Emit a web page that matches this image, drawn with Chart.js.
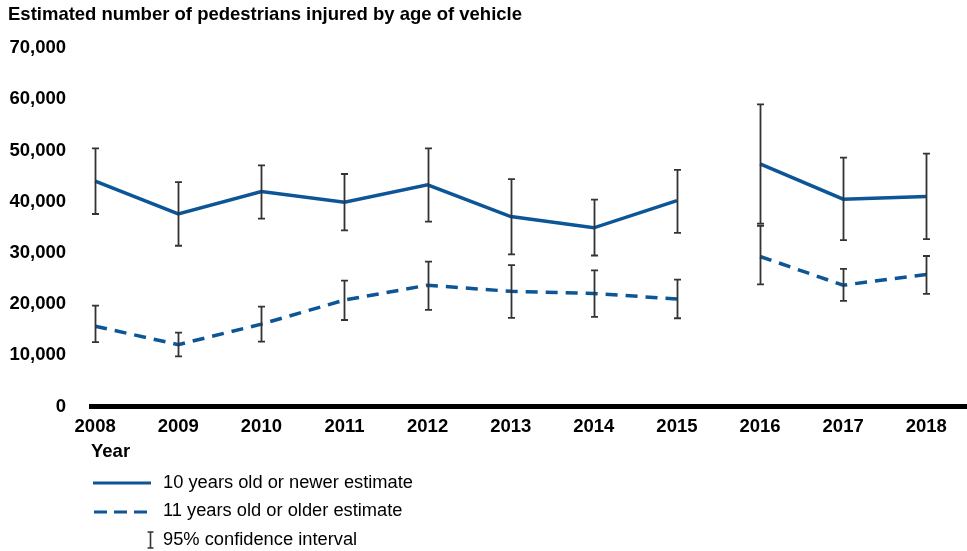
<!DOCTYPE html>
<html>
<head>
<meta charset="utf-8">
<script src="https://cdn.jsdelivr.net/npm/chart.js@4"></script>
<style>
  html, body { margin: 0; padding: 0; background: #fff; }
  #wrap { width: 967px; height: 551px; position: relative; }
</style>
</head>
<body>
<div id="wrap"><canvas id="chart"></canvas></div>
<script>
// Data
const years = [2008, 2009, 2010, 2011, 2012, 2013, 2014, 2015, 2016, 2017, 2018];

const newerEst   = [44000, 37600, 42000, 39900, 43300, 37100, 34900, 40200, 47400, 40500, 41000];
const newerLow   = [37600, 31400, 36700, 34400, 36100, 29700, 29500, 33900, 35700, 32500, 32700];
const newerHigh  = [50400, 43800, 47100, 45400, 50400, 44400, 40400, 46200, 59000, 48600, 49400];

const olderEst   = [15700, 12100, 16100, 20800, 23700, 22500, 22100, 21000, 29300, 23700, 25800];
const olderLow   = [12600,  9800, 12700, 16900, 18900, 17300, 17500, 17250, 23850, 20650, 22000];
const olderHigh  = [19700, 14450, 19500, 24600, 28300, 27600, 26600, 24800, 35300, 26900, 29400];

const yTicks = [0, 10000, 20000, 30000, 40000, 50000, 60000, 70000];

const BLUE = '#0c5596';
const FONT = "'Liberation Sans', Arial, sans-serif";
const BIG = 18.5;

// series is broken between 2015 and 2016
const gapAfter = years.indexOf(2015);
const hideGap = ctx => ctx.p0DataIndex === gapAfter ? 'rgba(0,0,0,0)' : undefined;

function points(vals) {
    return years.map((yr, i) => ({ x: yr, y: vals[i] }));
}

// 95% confidence interval whiskers
const errorBars = {
    id: 'errorBars',
    afterDatasetsDraw(chart) {
        const { ctx, scales: { x, y } } = chart;
        ctx.save();
        ctx.strokeStyle = '#333';
        ctx.lineWidth = 1.8;
        chart.data.datasets.forEach(ds => {
            ds.low.forEach((lo, i) => {
                const px = Math.round(x.getPixelForValue(years[i])) + 0.5;
                const y0 = y.getPixelForValue(lo);
                const y1 = y.getPixelForValue(ds.high[i]);
                ctx.beginPath();
                ctx.moveTo(px, y0); ctx.lineTo(px, y1);
                ctx.moveTo(px - 3.5, y0); ctx.lineTo(px + 3.5, y0);
                ctx.moveTo(px - 3.5, y1); ctx.lineTo(px + 3.5, y1);
                ctx.stroke();
            });
        });
        ctx.restore();
    }
};

// title and the custom legend
const decorations = {
    id: 'decorations',
    afterDraw(chart) {
        const ctx = chart.ctx;
        ctx.save();
        ctx.fillStyle = '#000';
        ctx.textBaseline = 'middle';
        ctx.textAlign = 'left';
        ctx.font = 'bold ' + BIG + 'px ' + FONT;
        ctx.fillText('Estimated number of pedestrians injured by age of vehicle', 8, 15);

        ctx.strokeStyle = BLUE;
        ctx.lineWidth = 3;
        ctx.beginPath();
        ctx.moveTo(93, 483); ctx.lineTo(151, 483);
        ctx.stroke();

        ctx.setLineDash([13, 7]);
        ctx.beginPath();
        ctx.moveTo(94, 512); ctx.lineTo(154, 512);
        ctx.stroke();
        ctx.setLineDash([]);

        ctx.strokeStyle = '#333';
        ctx.lineWidth = 1.6;
        ctx.beginPath();
        ctx.moveTo(150.5, 532); ctx.lineTo(150.5, 548);
        ctx.moveTo(147.5, 532); ctx.lineTo(153.5, 532);
        ctx.moveTo(147.5, 548); ctx.lineTo(153.5, 548);
        ctx.stroke();

        ctx.font = '18.3px ' + FONT;
        ctx.fillText('10 years old or newer estimate', 163, 483);
        ctx.fillText('11 years old or older estimate', 163, 511);
        ctx.fillText('95% confidence interval', 163, 540);
        ctx.restore();
    }
};

new Chart(document.getElementById('chart'), {
    type: 'line',
    data: {
        datasets: [{
            label: '10 years old or newer estimate',
            data: points(newerEst),
            low: newerLow,
            high: newerHigh,
            borderColor: BLUE,
            borderWidth: 3.5,
            pointRadius: 0,
            tension: 0,
            segment: { borderColor: hideGap }
        }, {
            label: '11 years old or older estimate',
            data: points(olderEst),
            low: olderLow,
            high: olderHigh,
            borderColor: BLUE,
            borderWidth: 3.5,
            borderDash: [12, 8],
            pointRadius: 0,
            tension: 0,
            segment: { borderColor: hideGap }
        }]
    },
    options: {
        responsive: true,
        maintainAspectRatio: false,
        animation: false,
        layout: { padding: { top: 48, left: 0, right: 0, bottom: 88 } },
        plugins: {
            legend: { display: false },
            tooltip: { enabled: false },
            title: { display: false }
        },
        scales: {
            x: {
                type: 'linear',
                min: 2007.95,
                max: 2018.49,
                grid: { display: false, drawTicks: false },
                border: { display: true, color: '#000', width: 5 },
                afterBuildTicks: scale => { scale.ticks = years.map(v => ({ value: v })); },
                ticks: {
                    padding: 9,
                    color: '#000',
                    font: { family: FONT, size: BIG, weight: 'bold' },
                    callback: v => String(v)
                },
                title: {
                    display: true,
                    text: 'Year',
                    align: 'start',
                    color: '#000',
                    padding: { top: -6, bottom: 0 },
                    font: { family: FONT, size: BIG, weight: 'bold' }
                }
            },
            y: {
                min: 0,
                max: 70000,
                grid: { display: false, drawTicks: false },
                border: { display: false },
                afterFit: scale => { scale.width = 91; },
                afterBuildTicks: scale => { scale.ticks = yTicks.map(v => ({ value: v })); },
                ticks: {
                    padding: 25,
                    color: '#000',
                    font: { family: FONT, size: BIG, weight: 'bold' },
                    callback: v => v.toLocaleString('en-US')
                }
            }
        }
    },
    plugins: [errorBars, decorations]
});
</script>
</body>
</html>
